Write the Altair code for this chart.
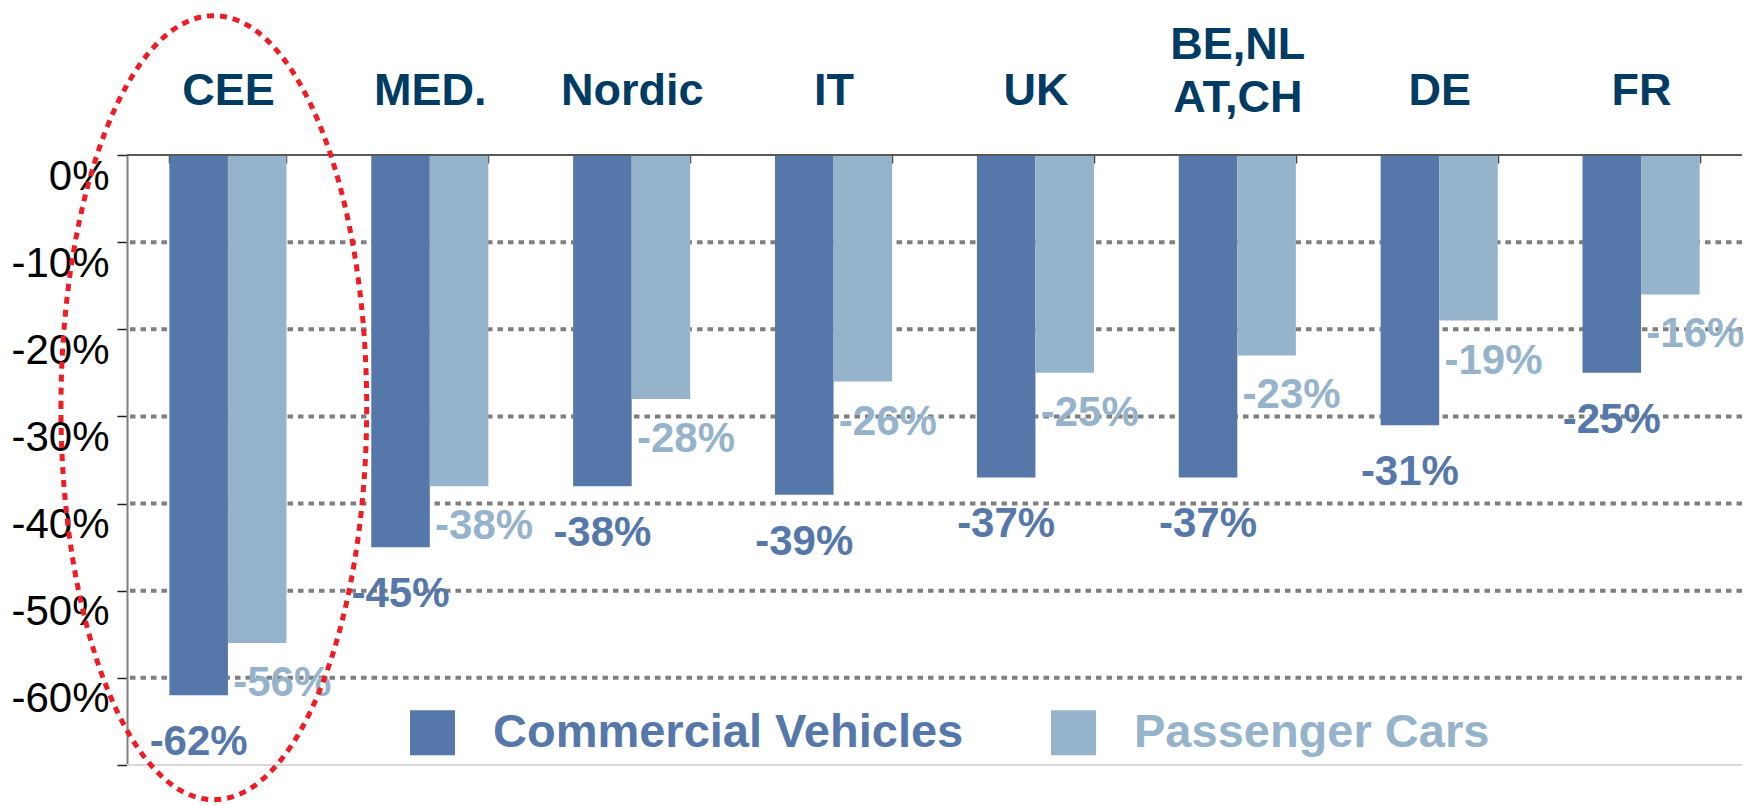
import altair as alt
import pandas as pd

categories = ["CEE", "MED.", "Nordic", "IT", "UK", "BE,NL AT,CH", "DE", "FR"]
commercial = [-62, -45, -38, -39, -37, -37, -31, -25]
passenger = [-56, -38, -28, -26, -25, -23, -19, -16]
series = ["Commercial Vehicles", "Passenger Cars"]
y_ticks = [0, -10, -20, -30, -40, -50, -60, -70]
grid_vals = [-10, -20, -30, -40, -50, -60]
highlight = ["CEE"]
highlight_y = [-29]

DARK = "#5577A9"
LIGHT = "#96B3CC"
NAVY = "#003B63"
FONT = "Liberation Sans"

rows = []
for c, v in zip(categories, commercial):
    rows.append(dict(cat=c, series=series[0], value=v, lbl=f"{v}%"))
for c, v in zip(categories, passenger):
    rows.append(dict(cat=c, series=series[1], value=v, lbl=f"{v}%"))
df = pd.DataFrame(rows)
grid_df = pd.DataFrame({"value": grid_vals})
hl_df = pd.DataFrame({"cat": highlight, "value": highlight_y})

x_scale = alt.Scale(domain=categories, paddingInner=0.42, paddingOuter=0.21)
y_scale = alt.Scale(domain=[-70, 0], nice=False, zero=True)
xo_scale = alt.Scale(domain=series)

x_axis = alt.Axis(
    orient="top", title=None, domain=False, offset=-8,
    tickBand="extent", tickSize=8, tickWidth=1.5, tickColor="#404040",
    labelFontSize=45, labelFont=FONT, labelFontWeight="bold",
    labelColor=NAVY, labelAngle=0,
    labelPadding={"condition": {"test": "indexof(datum.label, ' ') >= 0", "value": 88}, "value": 42},
    labelExpr="split(datum.label, ' ')", labelLineHeight=53,
    labelLimit=1000,
)
y_axis = alt.Axis(
    values=y_ticks, title=None, grid=False,
    domainColor="#808080", domainWidth=2,
    tickColor="#202020", tickSize=10, tickWidth=1.5,
    labelFontSize=42, labelFont=FONT, labelColor="black",
    labelBaseline="top", labelOffset=1, labelPadding=8,
    labelExpr="datum.value <= -70 ? '' : datum.value + '%'",
)

x_enc = alt.X("cat:N", scale=x_scale, sort=None, axis=x_axis)
y_enc = alt.Y("value:Q", scale=y_scale, axis=y_axis)

grid = alt.Chart(grid_df).mark_rule(
    color="#7f7f7f", strokeWidth=4, strokeDash=[5.5, 5]
).encode(y=y_enc)

bottom_line = alt.Chart(grid_df).mark_rule(color="#d9d9d9", strokeWidth=2).encode(
    y=alt.datum(-70)
)

bars = alt.Chart(df).mark_bar().encode(
    x=x_enc,
    xOffset=alt.XOffset("series:N", scale=xo_scale),
    y=y_enc,
    color=alt.Color(
        "series:N",
        scale=alt.Scale(domain=series, range=[DARK, LIGHT]),
        legend=alt.Legend(
            orient="none", legendX=282, legendY=554, direction="horizontal",
            title=None, symbolType="square", symbolSize=2025,
            symbolStrokeWidth=0, labelFontSize=47, labelFont=FONT,
            labelFontWeight="bold",
            labelColor={"expr": "datum.label == 'Commercial Vehicles' ? '%s' : '%s'" % (DARK, LIGHT)},
            labelOffset=37, columnPadding=86, padding=0, labelLimit=1000,
        ),
    ),
)

top_line = alt.Chart(grid_df).mark_rule(color="#595959", strokeWidth=2).encode(
    y=alt.datum(0)
)

cv_text = alt.Chart(df).transform_filter(
    alt.datum.series == series[0]
).mark_text(
    baseline="top", dy=27, fontSize=42, font=FONT, fontWeight="bold", color=DARK
).encode(
    x=x_enc,
    xOffset=alt.XOffset("series:N", scale=xo_scale),
    y=y_enc,
    text="lbl:N",
)

pc_text = alt.Chart(df).transform_filter(
    alt.datum.series == series[1]
).mark_text(
    align="left", baseline="top", dx=-24, dy=20, fontSize=42, font=FONT,
    fontWeight="bold", color=LIGHT
).encode(
    x=x_enc,
    xOffset=alt.XOffset("series:N", scale=xo_scale),
    y=y_enc,
    text="lbl:N",
)

ellipse_path = "M -0.426 0 A 0.39 1 0 1 1 0.354 0 A 0.39 1 0 1 1 -0.426 0 Z"
ellipse = alt.Chart(hl_df).mark_point(
    shape=ellipse_path, size=614656, filled=False, fill="transparent",
    stroke="#EE1C24", strokeWidth=5, strokeDash=[7, 6], opacity=1
).encode(
    x=x_enc,
    y=y_enc,
)

chart = alt.layer(
    grid, bottom_line, bars, top_line, cv_text, pc_text, ellipse
).properties(
    width=1615, height=610, background="white",
    autosize=alt.AutoSizeParams(type="none"),
    padding={"left": 119, "top": 147, "right": 2, "bottom": 40},
).configure_view(stroke=None)

chart.save("out.html", embed_options={"renderer": "svg", "actions": False})
